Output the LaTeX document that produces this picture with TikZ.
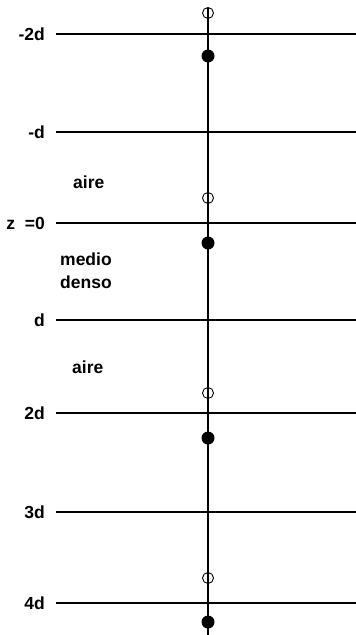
\documentclass[tikz,border=0pt]{standalone}
\usepackage{fontspec}
\setmainfont{Liberation Sans}
\begin{document}
\begin{tikzpicture}[x=1pt,y=-1pt,
  lbl/.style={font=\bfseries\fontsize{17.5}{23}\selectfont, inner sep=0pt, anchor=east},
  txt/.style={font=\bfseries\fontsize{17.5}{23}\selectfont, inner sep=0pt, anchor=west, align=left},
  thin/.style={line width=1.4pt},
  thick/.style={line width=2.8pt},
  open/.style={circle, draw, line width=0.9pt, minimum width=11pt, minimum height=11pt, inner sep=0pt},
  full/.style={circle, fill=black, minimum size=13pt, inner sep=0pt}]
\useasboundingbox (0,0) rectangle (356,635);
% horizontal lines
\coordinate (l1a) at (56,34);  \coordinate (l1b) at (356,34);
\coordinate (l2a) at (56,132); \coordinate (l2b) at (356,132);
\coordinate (l3a) at (56,223); \coordinate (l3b) at (356,223);
\coordinate (l4a) at (56,320); \coordinate (l4b) at (356,320);
\coordinate (l5a) at (56,413); \coordinate (l5b) at (356,413);
\coordinate (l6a) at (56,512); \coordinate (l6b) at (356,512);
\coordinate (l7a) at (56,603); \coordinate (l7b) at (356,603);
\draw[thin] (l1a) -- (l1b);
\draw[thin] (l2a) -- (l2b);
\draw[thick] (l3a) -- (l3b);
\draw[thick] (l4a) -- (l4b);
\draw[thin] (l5a) -- (l5b);
\draw[thin] (l6a) -- (l6b);
\draw[thin] (l7a) -- (l7b);
% vertical axis
\coordinate (top) at (208,7.5);
\coordinate (bot) at (208,635);
\draw[thin] (top) -- (bot);
% charges
\node[open] (o1) at (208,13) {};
\node[open] (o2) at (208,198) {};
\node[open] (o3) at (208,393) {};
\node[open] (o4) at (208,578) {};
\node[full] (f1) at (208,56) {};
\node[full] (f2) at (208,243) {};
\node[full] (f3) at (208,438) {};
\node[full] (f4) at (208,622) {};
% labels
\node[lbl] (t1) at (45,34) {-2d};
\node[lbl] (t2) at (45,132) {-d};
\node[lbl] (t3) at (45,223) {z\ \ =0};
\node[lbl] (t4) at (45,320) {d};
\node[lbl] (t5) at (45,413) {2d};
\node[lbl] (t6) at (45,512) {3d};
\node[lbl] (t7) at (45,603) {4d};
\node[txt] (a1) at (73,182) {aire};
\node[txt] (m1) at (60,271) {medio\\denso};
\node[txt] (a2) at (72,367) {aire};
\end{tikzpicture}
\end{document}
